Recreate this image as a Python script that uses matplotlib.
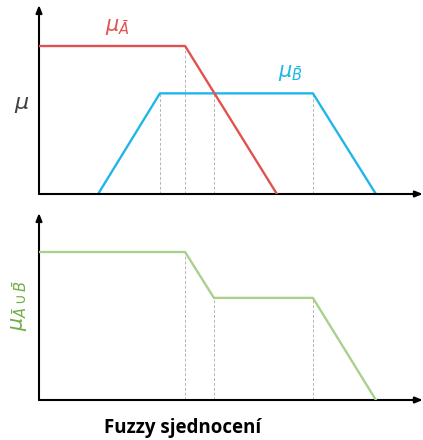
import matplotlib
matplotlib.use("Agg")
import matplotlib.pyplot as plt

# data (x in arbitrary units, y = membership)
a_x = [0.0, 4.87, 7.93]
a_y = [1.0, 1.0, 0.0]
b_x = [1.97, 4.03, 9.13, 11.23]
b_y = [0.0, 0.68, 0.68, 0.0]
u_x = [0.0, 4.87, 5.83, 9.13, 11.23]
u_y = [1.0, 1.0, 0.69, 0.69, 0.0]
top_dashes = [(4.03, 0.68), (4.87, 1.0), (5.83, 0.68), (9.13, 0.68)]
bot_dashes = [(4.87, 1.0), (5.83, 0.69), (9.13, 0.69)]

RED = "#E0524F"
BLUE = "#22B5E8"
GREEN = "#A9D18E"
GREEN_TXT = "#70AD47"

W, H = 423, 440
fig = plt.figure(figsize=(W / 100, H / 100), dpi=100)
plt.rcParams['mathtext.fontset'] = 'dejavusans'

XMAX = (421 - 39) / 30.0

def make_ax(top_px, bottom_px, ymax):
    ax = fig.add_axes([39 / W, 1 - bottom_px / H, (421 - 39) / W, (bottom_px - top_px) / H])
    ax.set_xlim(0, XMAX)
    ax.set_ylim(0, ymax)
    for s in ax.spines.values():
        s.set_visible(False)
    ax.set_xticks([])
    ax.set_yticks([])
    ax.patch.set_alpha(0)
    ap = dict(arrowstyle="-|>,head_length=0.45,head_width=0.18", color="black", lw=1.5, shrinkA=0, shrinkB=0)
    ax.annotate("", xy=(0, 1), xytext=(0, 0), xycoords="axes fraction", arrowprops=ap, clip_on=False)
    ax.annotate("", xy=(1.005, 0), xytext=(0, 0), xycoords="axes fraction", arrowprops=ap, clip_on=False)
    return ax

ax1 = make_ax(5, 194, 189 / 148)
for x, y in top_dashes:
    ax1.plot([x, x], [0, y], color="#B5B5B5", lw=0.7, ls=(0, (3, 2)), zorder=1)
ax1.plot(a_x, a_y, color=RED, lw=1.7, zorder=3)
ax1.plot(b_x, b_y, color=BLUE, lw=1.7, zorder=2)
ax1.text(2.2, 1.06, r'$\mu_{\bar{A}}$', color=RED, fontsize=15, ha="left", va="bottom")
ax1.text(7.95, 0.75, r'$\mu_{\bar{B}}$', color=BLUE, fontsize=15, ha="left", va="bottom")
fig.text(22 / W, 1 - 105 / H, r'$\mu$', color="#404040", fontsize=16, ha="center", va="center")

ax2 = make_ax(213, 400, 187 / 148)
for x, y in bot_dashes:
    ax2.plot([x, x], [0, y], color="#B5B5B5", lw=0.7, ls=(0, (3, 2)), zorder=1)
ax2.plot(u_x, u_y, color=GREEN, lw=1.7, zorder=3)
fig.text(19 / W, 1 - 305 / H, r'$\mu_{\bar{A}\cup\bar{B}}$', color=GREEN_TXT, fontsize=15,
         rotation=90, ha="center", va="center")

fig.text(183 / W, 1 - 428 / H, "Fuzzy sjednocení", fontsize=13.5, fontweight="bold",
         family=["Open Sans", "DejaVu Sans"], ha="center", va="center", color="black")

fig.savefig("out.png", dpi=100)
